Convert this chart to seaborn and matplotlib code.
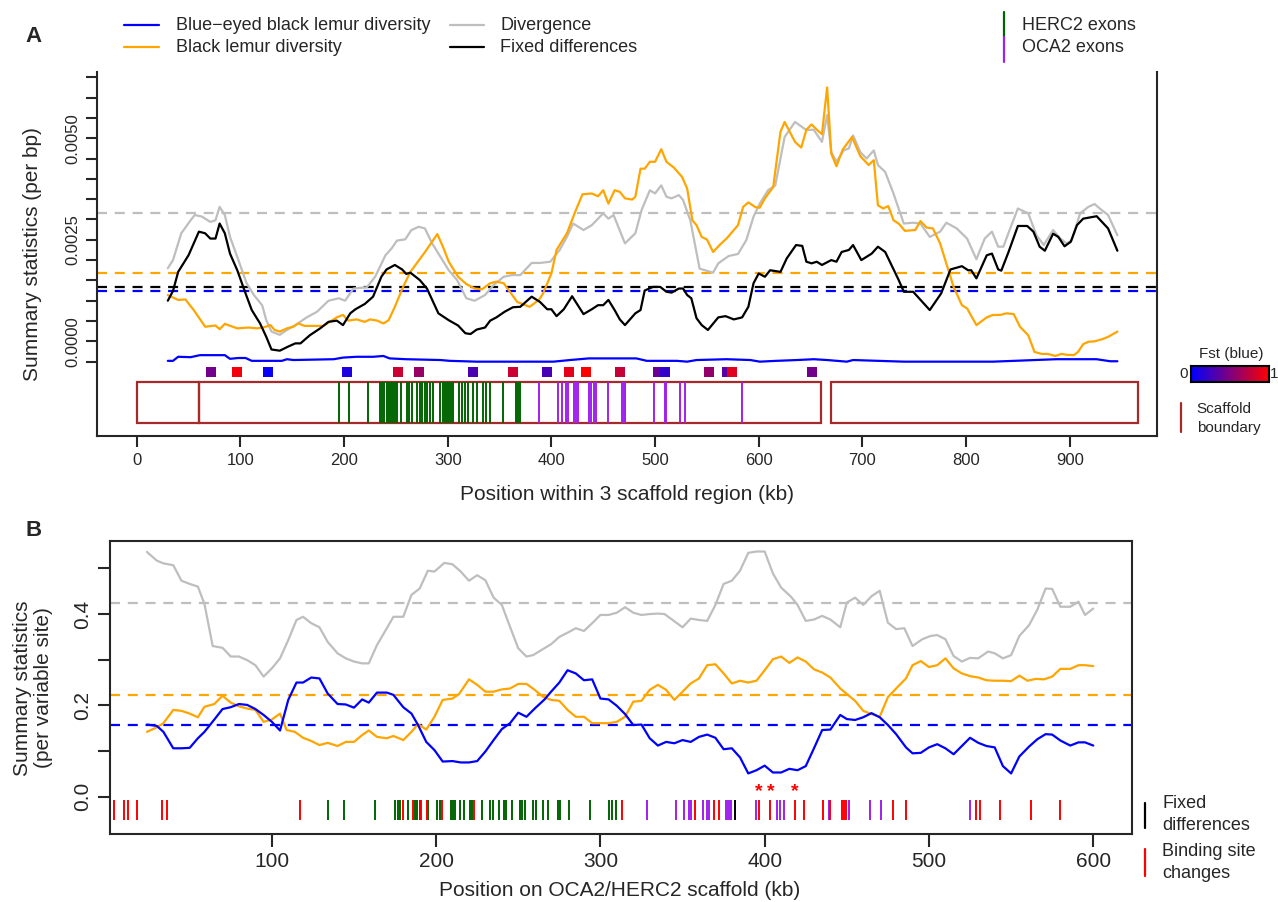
import numpy as np
import pandas as pd
import matplotlib
matplotlib.use("Agg")
import matplotlib.pyplot as plt
import seaborn as sns
from matplotlib.patches import Rectangle
from matplotlib.lines import Line2D
from matplotlib.colors import LinearSegmentedColormap

sns.set_style("ticks")
plt.rcParams["font.family"] = ["Liberation Sans", "DejaVu Sans"]

# ---------------- Panel A: per-bp statistics (values in units of 1e-3) ----------------
divergence_a = [(30,1.80),(35,2.00),(43,2.66),(52,2.98),(56,3.11),(63,3.07),(71,2.94),(76,2.98),(80,3.31),(85,3.11),
    (90,2.57),(97,2.08),(106,1.43),(113,1.14),(121,0.89),(125,0.52),(130,0.24),(138,0.16),(145,0.28),(153,0.40),
    (164,0.59),(174,0.73),(185,1.00),(195,1.06),(201,1.00),(209,1.30),(222,1.33),(230,1.59),(240,2.12),(246,2.29),
    (251,2.48),(259,2.51),(265,2.74),(272,2.82),(278,2.78),(285,2.41),(293,2.08),(301,1.75),(309,1.51),(318,1.06),
    (326,1.00),(336,1.14),(344,1.38),(354,1.59),(362,1.63),(370,1.63),(381,1.93),(389,1.93),(399,1.96),(408,2.25),
    (415,2.57),(421,2.90),(431,2.74),(439,2.86),(450,3.15),(455,3.02),(460,3.11),(471,2.41),(481,2.66),(487,3.23),
    (495,3.72),(500,3.64),(506,3.84),(511,3.56),(516,3.52),(523,3.60),(527,3.48),(534,2.98),(543,1.79),(556,1.69),
    (561,1.92),(571,2.10),(580,2.15),(588,2.49),(595,3.07),(601,3.39),(609,3.72),(616,3.84),(625,5.03),(635,5.40),
    (646,5.20),(653,5.21),(661,4.91),(666,5.57),(670,4.66),(675,4.42),(682,4.70),(687,4.75),(691,5.07),(698,4.66),
    (704,4.50),(711,4.70),(715,4.34),(722,4.17),(730,3.64),(736,3.19),(740,2.90),(749,2.92),(756,2.90),(765,2.57),
    (775,2.70),(781,2.92),(791,2.78),(801,2.53),(810,2.02),(818,2.53),(825,2.70),(831,2.33),(836,2.33),(842,2.74),
    (850,3.27),(860,3.15),(868,2.61),(875,2.37),(884,2.74),(891,2.53),(897,2.41),(902,2.49),(910,3.15),(918,3.31),
    (924,3.38),(929,3.27),(937,3.11),(946,2.61)]

fixed_a = [(30,1.00),(35,1.24),(40,1.71),(50,2.12),(60,2.70),(66,2.66),(71,2.53),(76,2.53),(80,2.90),(85,2.66),
    (90,2.16),(97,1.75),(105,1.18),(111,0.77),(119,0.44),(125,0.11),(130,-0.20),(138,-0.23),(146,-0.13),(153,-0.05),
    (158,-0.05),(167,0.15),(177,0.32),(185,0.48),(193,0.51),(199,0.40),(206,0.69),(211,0.79),(220,0.92),(228,1.10),
    (236,1.59),(241,1.77),(249,1.88),(256,1.77),(260,1.66),(264,1.69),(273,1.51),(280,1.30),(285,1.02),(291,0.69),
    (301,0.52),(310,0.39),(317,0.20),(322,0.18),(328,0.29),(336,0.34),(341,0.51),(347,0.59),(355,0.73),(363,0.84),
    (370,0.85),(381,1.10),(389,0.97),(396,0.79),(400,0.79),(405,0.62),(412,0.79),(420,1.11),(431,0.67),(439,0.79),
    (445,0.89),(450,0.89),(455,1.02),(461,0.77),(466,0.54),(471,0.40),(481,0.69),(486,0.77),(490,1.25),(498,1.34),
    (505,1.34),(511,1.22),(516,1.20),(523,1.30),(527,1.30),(531,1.14),(535,1.06),(540,0.57),(545,0.40),(551,0.28),
    (561,0.59),(568,0.62),(576,0.54),(584,0.59),(590,0.85),(595,1.43),(600,1.67),(606,1.59),(611,1.75),(621,1.71),
    (627,2.04),(636,2.37),(642,2.35),(646,1.96),(651,1.92),(656,1.96),(661,1.88),(670,2.00),(675,1.96),(680,2.20),
    (687,2.25),(691,2.37),(699,2.00),(709,2.16),(715,2.33),(722,2.20),(728,1.88),(735,1.51),(740,1.22),(749,1.22),
    (765,0.77),(776,1.18),(785,1.77),(796,1.85),(802,1.75),(805,1.75),(810,1.55),(820,2.12),(825,2.16),(831,1.77),
    (834,1.74),(841,2.20),(850,2.84),(859,2.84),(865,2.70),(871,2.33),(876,2.23),(884,2.65),(889,2.57),(895,2.34),
    (901,2.45),(907,2.86),(913,3.02),(926,3.08),(937,2.78),(946,2.23)]

black_div_a = [(30,1.14),(40,1.02),(47,1.03),(55,0.77),(66,0.36),(76,0.39),(80,0.30),(85,0.43),(97,0.32),(108,0.34),
    (116,0.32),(122,0.34),(129,0.40),(133,0.28),(138,0.24),(145,0.32),(151,0.36),(156,0.44),(162,0.38),(180,0.38),
    (193,0.59),(199,0.65),(204,0.51),(212,0.54),(220,0.48),(225,0.54),(232,0.51),(238,0.44),(243,0.52),(249,0.85),
    (257,1.34),(264,1.71),(277,2.16),(290,2.64),(296,2.29),(301,1.96),(310,1.59),(318,1.41),(326,1.30),(333,1.28),
    (341,1.43),(347,1.47),(354,1.43),(360,1.22),(367,0.97),(379,0.85),(388,1.02),(392,1.18),(400,1.67),(405,2.25),
    (415,2.66),(423,3.19),(430,3.62),(439,3.64),(445,3.57),(450,3.72),(455,3.39),(461,3.72),(466,3.68),(471,3.52),
    (478,3.49),(481,3.56),(486,4.25),(490,4.25),(495,4.42),(500,4.42),(506,4.73),(511,4.42),(518,4.28),(526,4.05),
    (531,3.76),(536,2.98),(540,2.86),(545,2.57),(550,2.51),(556,2.20),(563,2.39),(569,2.53),(580,2.86),(585,3.31),
    (590,3.42),(597,3.30),(601,3.29),(606,3.52),(614,3.80),(621,5.16),(625,5.40),(635,4.91),(641,4.77),(646,5.21),
    (651,5.34),(656,5.21),(661,5.10),(666,6.25),(670,4.62),(675,4.31),(681,4.72),(690,5.03),(698,4.56),(706,4.34),
    (711,4.46),(715,3.35),(720,3.27),(725,3.33),(730,2.98),(735,2.90),(741,2.72),(751,2.74),(756,2.96),(762,2.80),
    (768,2.78),(775,2.41),(781,1.92),(788,1.34),(796,0.89),(801,0.81),(810,0.40),(820,0.59),(826,0.65),(833,0.65),
    (839,0.69),(846,0.67),(852,0.36),(860,0.15),(866,-0.26),(873,-0.31),(879,-0.31),(886,-0.36),(892,-0.31),(897,-0.33),
    (904,-0.34),(908,-0.26),(913,-0.07),(918,-0.01),(924,0.00),(931,0.05),(937,0.11),(946,0.24)]

blue_div_a = [(30,-0.48),(35,-0.48),(40,-0.38),(52,-0.39),(61,-0.34),(85,-0.34),(90,-0.43),(98,-0.41),(105,-0.41),
    (111,-0.48),(140,-0.48),(145,-0.44),(151,-0.46),(190,-0.44),(199,-0.40),(212,-0.38),(228,-0.38),(238,-0.36),
    (244,-0.42),(260,-0.44),(293,-0.46),(302,-0.48),(328,-0.50),(370,-0.50),(402,-0.50),(418,-0.46),(436,-0.42),
    (482,-0.42),(492,-0.48),(521,-0.48),(531,-0.50),(540,-0.46),(569,-0.44),(592,-0.46),(601,-0.50),(617,-0.48),
    (637,-0.46),(653,-0.44),(666,-0.46),(685,-0.50),(691,-0.46),(740,-0.50),(775,-0.50),(826,-0.50),(887,-0.44),
    (916,-0.44),(926,-0.44),(939,-0.49),(946,-0.49)]

mean_divergence_a = 3.15
mean_black_div_a = 1.69
mean_fixed_a = 1.33
mean_blue_div_a = 1.24

scaffolds_a = [(0, 60), (60, 660), (670, 966)]
fst_pos = [72, 97, 127, 203, 252, 272, 324, 363, 396, 417, 433, 466, 503, 510, 552, 569, 574, 651]
fst_val = [0.45, 0.95, 0.03, 0.12, 0.80, 0.60, 0.30, 0.80, 0.28, 0.90, 1.00, 0.78, 0.42, 0.20, 0.58, 0.35, 0.88, 0.45]

herc2_a = [195, 205, 223, 235, 237, 239, 241, 243, 245, 247, 249, 251, 255, 261, 263, 266, 270, 273, 275, 278,
           280, 283, 286, 293, 295, 297, 299, 301, 303, 305, 311, 314, 317, 320, 324, 328, 334, 337, 341, 353,
           366, 368, 370]
oca2_a = [388, 406, 410, 414, 416, 422, 424, 426, 436, 438, 441, 443, 455, 468, 470, 471, 499, 510, 511, 524,
          529, 584]

# ---------------- Panel B: per-variable-site statistics ----------------
divergence_b = [(24,0.536),(30,0.517),(34,0.511),(40,0.507),(45,0.473),(50,0.466),(55,0.460),(59,0.422),(64,0.330),
    (70,0.326),(75,0.307),(80,0.307),(85,0.299),(90,0.288),(95,0.263),(100,0.281),(105,0.303),(110,0.343),(115,0.387),
    (119,0.394),(124,0.380),(129,0.371),(134,0.339),(140,0.314),(145,0.303),(150,0.296),(155,0.292),(159,0.292),
    (164,0.332),(170,0.369),(174,0.394),(180,0.394),(185,0.442),(190,0.456),(195,0.495),(199,0.493),(205,0.512),
    (210,0.509),(215,0.493),(220,0.473),(225,0.485),(230,0.474),(235,0.436),(240,0.420),(245,0.372),(250,0.325),
    (255,0.307),(259,0.310),(264,0.321),(270,0.334),(275,0.350),(281,0.361),(285,0.369),(290,0.363),(295,0.380),
    (300,0.398),(305,0.398),(310,0.403),(315,0.415),(320,0.403),(325,0.398),(330,0.400),(335,0.401),(339,0.400),
    (344,0.387),(350,0.371),(355,0.390),(360,0.387),(365,0.385),(370,0.420),(375,0.466),(380,0.473),(385,0.495),
    (390,0.534),(395,0.537),(400,0.537),(405,0.489),(410,0.458),(416,0.438),(420,0.420),(425,0.385),(430,0.388),
    (435,0.396),(440,0.388),(446,0.371),(450,0.425),(455,0.436),(460,0.420),(465,0.439),(470,0.451),(475,0.381),
    (480,0.367),(485,0.369),(490,0.330),(496,0.345),(501,0.352),(505,0.354),(510,0.345),(515,0.308),(520,0.296),
    (525,0.304),(530,0.303),(536,0.318),(540,0.314),(545,0.303),(550,0.310),(555,0.352),(561,0.376),(566,0.410),
    (571,0.456),(575,0.455),(580,0.416),(586,0.416),(591,0.427),(595,0.398),(600,0.412)]

black_div_b = [(24,0.142),(30,0.152),(34,0.161),(40,0.190),(45,0.188),(50,0.182),(55,0.174),(59,0.197),(65,0.203),
    (70,0.221),(75,0.206),(80,0.198),(85,0.193),(90,0.190),(95,0.164),(100,0.169),(105,0.182),(109,0.146),(114,0.142),
    (119,0.129),(124,0.122),(129,0.113),(134,0.118),(140,0.111),(145,0.120),(150,0.120),(155,0.135),(159,0.145),
    (164,0.131),(170,0.128),(174,0.133),(180,0.124),(185,0.142),(189,0.159),(194,0.147),(199,0.175),(204,0.212),
    (210,0.215),(214,0.225),(220,0.257),(225,0.245),(230,0.230),(235,0.230),(240,0.235),(245,0.237),(250,0.247),
    (255,0.247),(260,0.234),(265,0.219),(270,0.212),(275,0.210),(280,0.190),(285,0.175),(290,0.175),(295,0.161),
    (305,0.161),(310,0.164),(315,0.175),(320,0.208),(325,0.210),(330,0.234),(335,0.245),(340,0.234),(345,0.212),
    (350,0.230),(355,0.248),(360,0.259),(365,0.288),(370,0.290),(375,0.270),(380,0.248),(385,0.254),(390,0.250),
    (395,0.254),(400,0.277),(405,0.301),(410,0.307),(415,0.293),(420,0.305),(425,0.296),(430,0.279),(435,0.272),
    (440,0.261),(446,0.237),(450,0.225),(455,0.210),(460,0.188),(465,0.181),(470,0.175),(475,0.218),(480,0.237),
    (486,0.259),(490,0.288),(495,0.297),(500,0.284),(505,0.288),(510,0.303),(515,0.281),(520,0.270),(525,0.264),
    (530,0.261),(535,0.255),(540,0.254),(545,0.254),(550,0.253),(555,0.265),(560,0.254),(565,0.258),(570,0.257),
    (575,0.263),(580,0.280),(586,0.280),(591,0.288),(595,0.288),(600,0.286)]

blue_div_b = [(24,0.158),(30,0.155),(34,0.142),(40,0.106),(45,0.106),(50,0.107),(55,0.128),(59,0.142),(65,0.169),
    (70,0.192),(75,0.196),(80,0.203),(85,0.201),(90,0.192),(95,0.179),(100,0.164),(105,0.145),(110,0.212),(115,0.250),
    (119,0.250),(124,0.261),(129,0.259),(134,0.226),(140,0.203),(145,0.202),(150,0.195),(155,0.213),(159,0.206),
    (164,0.228),(170,0.228),(174,0.223),(180,0.196),(185,0.182),(189,0.157),(194,0.120),(199,0.102),(204,0.077),
    (210,0.078),(215,0.075),(220,0.075),(225,0.078),(230,0.099),(235,0.124),(240,0.148),(245,0.161),(250,0.184),
    (255,0.175),(260,0.193),(266,0.213),(270,0.230),(275,0.250),(280,0.277),(285,0.270),(290,0.255),(295,0.257),
    (300,0.215),(305,0.213),(310,0.199),(315,0.181),(320,0.157),(325,0.158),(330,0.128),(335,0.112),(340,0.120),
    (345,0.117),(350,0.124),(355,0.120),(360,0.131),(365,0.136),(370,0.129),(375,0.104),(380,0.106),(385,0.086),
    (390,0.051),(395,0.058),(400,0.068),(405,0.053),(410,0.053),(415,0.061),(420,0.058),(425,0.067),(430,0.106),
    (435,0.146),(440,0.147),(446,0.179),(450,0.170),(455,0.168),(460,0.174),(465,0.183),(470,0.174),(475,0.157),
    (480,0.137),(486,0.108),(490,0.095),(495,0.096),(500,0.108),(505,0.115),(510,0.106),(515,0.093),(520,0.111),
    (525,0.129),(530,0.118),(535,0.111),(540,0.108),(545,0.067),(550,0.051),(555,0.088),(561,0.110),(566,0.126),
    (571,0.137),(575,0.136),(580,0.123),(586,0.112),(591,0.119),(595,0.119),(600,0.112)]

mean_divergence_b = 0.425
mean_black_div_b = 0.223
mean_blue_div_b = 0.156

binding_b = [4, 10, 12.4, 18, 33.4, 36.2, 117, 180, 186, 191, 194.6, 203.4, 223, 313.2, 357.4, 369, 372.2,
             396.5, 403.5, 418.5, 424.2, 435.7, 439.6, 447.2, 448.5, 449.8, 478.1, 485.9, 528.5, 530.9, 543.3,
             562.4, 579.8]
herc2_b = [134.3, 144, 162.5, 175, 176.5, 178, 182.8, 187, 188.5, 190.4, 195.3, 200.6, 202.3, 209.3, 210.5,
           211.5, 214.3, 217.1, 220.8, 221.9, 227.7, 232.7, 234.9, 238.2, 241.4, 242.5, 246.2, 251.1, 252.5,
           253.9, 258.7, 260.5, 264.8, 267.9, 274, 275.7, 281, 293.6, 305.5, 307, 309.2]
oca2_b = [328.4, 345.9, 350.9, 353.7, 355.2, 362.2, 364.6, 366.1, 376.3, 377.5, 378.7, 379.8, 394.8, 407.4,
          409.6, 411.8, 439, 451.3, 464, 470.5, 524.8]
fixed_b = [382]
starred_b = [396.5, 403.5, 418.5]

# ---------------- styling ----------------
BLUE, ORANGE, GREY, BLACK = "#0000FF", "#FFA500", "#BEBEBE", "#000000"
GREEN, PURPLE, RED, BROWN = "#006400", "#A020F0", "#FF0000", "#A52A2A"
LW = 1.6
DASH = (4.5, 3.5)
fst_cmap = LinearSegmentedColormap.from_list("fst", ["#0000FF", "#FF0000"])

W, H = 1278, 902
fig = plt.figure(figsize=(W / 100, H / 100), dpi=100)


def px_axes(left, top, right, bottom):
    return fig.add_axes([left / W, 1 - bottom / H, (right - left) / W, (bottom - top) / H])


def ftext(x, y, s, **kw):
    fig.text(x / W, 1 - y / H, s, **kw)


def fline(xs, ys, **kw):
    fig.add_artist(Line2D([x / W for x in xs], [1 - y / H for y in ys], transform=fig.transFigure, **kw))


def draw_series(ax, pairs, color, scale=1.0):
    df = pd.DataFrame(pairs, columns=["kb", "value"])
    df["value"] = df["value"] * scale
    sns.lineplot(data=df, x="kb", y="value", ax=ax, color=color, lw=LW,
                 estimator=None, sort=False, legend=False)


# ======================= Panel A =======================
axA = px_axes(97, 72, 1157, 436)
for m, c in [(mean_divergence_a, GREY), (mean_black_div_a, ORANGE), (mean_fixed_a, BLACK), (mean_blue_div_a, BLUE)]:
    axA.axhline(m * 1e-3, color=c, lw=LW, dashes=DASH)
draw_series(axA, divergence_a, GREY, 1e-3)
draw_series(axA, black_div_a, ORANGE, 1e-3)
draw_series(axA, fixed_a, BLACK, 1e-3)
draw_series(axA, blue_div_a, BLUE, 1e-3)

for s, e in scaffolds_a:
    axA.add_patch(Rectangle((s, -0.002), e - s, 0.001, fill=False, ec=BROWN, lw=LW))
axA.vlines(herc2_a, -0.002, -0.001, color=GREEN, lw=1.4)
axA.vlines(oca2_a, -0.002, -0.001, color=PURPLE, lw=1.4)
axA.scatter(fst_pos, [-0.00075] * len(fst_pos), c=fst_val, cmap=fst_cmap, vmin=0, vmax=1,
            marker="s", s=52, linewidths=0, zorder=3)

axA.set_xlim(-38.3, 984.2)
axA.set_ylim(-0.00233, 0.00663)
axA.spines["top"].set_visible(False)
for sp in axA.spines.values():
    sp.set_linewidth(1.5)
yt = np.round(np.arange(-0.0005, 0.00651, 0.0005), 4)
axA.set_yticks(yt)
axA.set_yticklabels([{0.0: "0.0000", 0.0025: "0.0025", 0.005: "0.0050"}.get(v, "") for v in yt])
axA.set_xticks(range(0, 901, 100))
axA.tick_params(direction="out", length=8, width=1.5, labelsize=12, pad=4)
for lab in axA.get_yticklabels():
    lab.set_rotation(90)
    lab.set_va("center")
axA.set_xlabel("")
axA.set_ylabel("")

# ======================= Panel B =======================
axB = px_axes(110, 541, 1131.7, 834)
for m, c in [(mean_divergence_b, GREY), (mean_black_div_b, ORANGE), (mean_blue_div_b, BLUE)]:
    axB.axhline(m, color=c, lw=LW, dashes=DASH)
draw_series(axB, divergence_b, GREY)
draw_series(axB, black_div_b, ORANGE)
draw_series(axB, blue_div_b, BLUE)

axB.vlines(herc2_b, -0.05, -0.008, color=GREEN, lw=1.4)
axB.vlines(oca2_b, -0.05, -0.008, color=PURPLE, lw=1.4)
axB.vlines(fixed_b, -0.05, -0.008, color=BLACK, lw=1.4)
axB.vlines(binding_b, -0.05, -0.008, color=RED, lw=1.4)
for x in starred_b:
    axB.text(x, 0.012, "*", color=RED, fontsize=14, fontweight="bold", ha="center", va="center")

axB.set_xlim(1.5, 623.4)
axB.set_ylim(-0.0817, 0.560)
for sp in axB.spines.values():
    sp.set_linewidth(1.5)
ytb = np.round(np.arange(0, 0.51, 0.1), 1)
axB.set_yticks(ytb)
axB.set_yticklabels([{0.0: "0.0", 0.2: "0.2", 0.4: "0.4"}.get(v, "") for v in ytb])
axB.set_xticks(range(100, 601, 100))
axB.tick_params(direction="out", length=9, width=1.5, labelsize=15, pad=4)
for lab in axB.get_yticklabels():
    lab.set_rotation(90)
    lab.set_va("center")
axB.set_xlabel("")
axB.set_ylabel("")

# ======================= Labels and keys =======================
ftext(33.7, 37, "A", fontsize=16, fontweight="bold", ha="center", va="center")
ftext(33.5, 531, "B", fontsize=16, fontweight="bold", ha="center", va="center")

ftext(627, 494, "Position within 3 scaffold region (kb)", fontsize=15, ha="center", va="center")
ftext(33, 254, "Summary statistics (per bp)", fontsize=15, ha="center", va="center", rotation=90)
ftext(620, 890, "Position on OCA2/HERC2 scaffold (kb)", fontsize=15, ha="center", va="center")
ftext(33, 688, "Summary statistics\n(per variable site)", fontsize=15, ha="center", va="center",
      rotation=90, linespacing=1.1)

# series key
fline([124, 159], [25, 25], color=BLUE, lw=LW)
fline([124, 159], [47, 47], color=ORANGE, lw=LW)
fline([449.5, 484], [25, 25], color=GREY, lw=LW)
fline([449.5, 484], [47, 47], color=BLACK, lw=LW)
ftext(176, 25, "Blue\u2212eyed black lemur diversity", fontsize=13, va="center")
ftext(176, 47, "Black lemur diversity", fontsize=13, va="center")
ftext(500, 25, "Divergence", fontsize=13, va="center")
ftext(500, 47, "Fixed differences", fontsize=13, va="center")

# exon key
fline([1004, 1004], [12, 37], color=GREEN, lw=LW)
fline([1004, 1004], [37, 62], color=PURPLE, lw=LW)
ftext(1021.7, 25, "HERC2 exons", fontsize=13, va="center")
ftext(1021.7, 47, "OCA2 exons", fontsize=13, va="center")

# Fst colour key
cax = px_axes(1191, 365.7, 1269, 382)
cax.imshow(np.linspace(0, 1, 256)[None, :], aspect="auto", cmap=fst_cmap, extent=(0, 1, 0, 1))
cax.set_xticks([])
cax.set_yticks([])
for sp in cax.spines.values():
    sp.set_linewidth(1.5)
    sp.set_color("black")
ftext(1231.7, 354, "Fst (blue)", fontsize=11, ha="center", va="center")
ftext(1183.3, 374, "0", fontsize=11, ha="center", va="center")
ftext(1274, 374, "1", fontsize=11, ha="center", va="center")

# scaffold boundary key
fline([1181, 1181], [403, 432], color=BROWN, lw=LW)
ftext(1196.7, 409, "Scaffold", fontsize=11, va="center")
ftext(1196.7, 428, "boundary", fontsize=11, va="center")

# panel B tick key
fline([1145, 1145], [803, 828], color=BLACK, lw=LW)
fline([1145, 1145], [849, 876], color=RED, lw=LW)
ftext(1162.3, 803, "Fixed", fontsize=13, va="center")
ftext(1162.3, 826, "differences", fontsize=13, va="center")
ftext(1162.3, 851, "Binding site", fontsize=13, va="center")
ftext(1162.3, 873, "changes", fontsize=13, va="center")

fig.savefig("out.png", dpi=100)
